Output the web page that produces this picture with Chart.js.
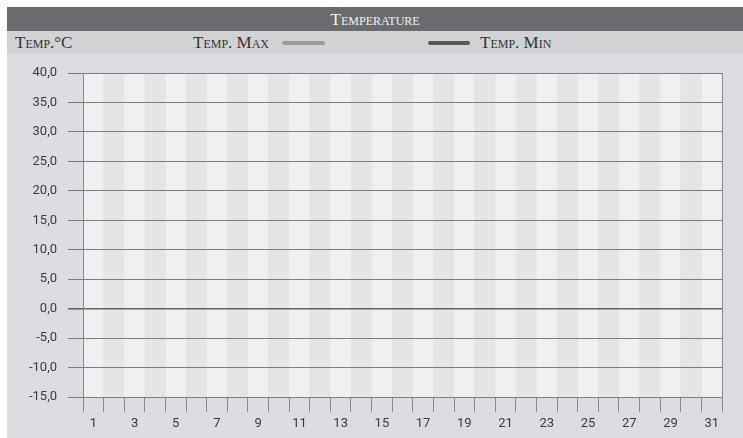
<!DOCTYPE html>
<html>
<head>
<meta charset="utf-8">
<script src="https://cdn.jsdelivr.net/npm/chart.js@4/dist/chart.umd.min.js"></script>
<style>
  html, body { margin: 0; padding: 0; background: #fff; }
  #wrap { position: absolute; left: 7px; top: 7px; width: 736px; height: 431px; background: #dcdde0; }
  #title { height: 24px; background: #6a6b6f; color: #f2f2f2; font: 17.5px "Liberation Serif", serif;
           font-variant: small-caps; text-align: center; line-height: 25px; }
  #head { position: relative; height: 23px; background: #d1d2d4; color: #333; font: 17px "Liberation Serif", serif;
          font-variant: small-caps; }
  #head span { position: absolute; top: 0; line-height: 24px; }
  .sw { position: absolute; top: 10px; height: 4px; border-radius: 2px; }
  #plot { position: relative; width: 736px; height: 384px; }
</style>
</head>
<body>
<div id="wrap">
  <div id="title">Temperature</div>
  <div id="head">
    <span style="left:8px">Temp.°C</span>
    <span style="left:186px">Temp. Max</span>
    <div class="sw" style="left:275px;width:43px;background:#9a9b9e"></div>
    <div class="sw" style="left:421px;width:42px;background:#57585b"></div>
    <span style="left:473px">Temp. Min</span>
  </div>
  <div id="plot"><canvas id="chart"></canvas></div>
</div>
<script>
// dias del mes
const days = ['1','2','3','4','5','6','7','8','9','10','11','12','13','14','15','16',
              '17','18','19','20','21','22','23','24','25','26','27','28','29','30','31'];
// sin mediciones todavía
const tempMax = [];
const tempMin = [];
const yMin = -15, yMax = 40, yStep = 5;

// franjas alternas por columna + borde derecho
const stripes = {
  id: 'stripes',
  beforeDraw(chart) {
    const { ctx, chartArea: a, scales: { x } } = chart;
    ctx.save();
    days.forEach((d, i) => {
      const c = x.getPixelForValue(i);
      const w = (x.getPixelForValue(1) - x.getPixelForValue(0));
      ctx.fillStyle = i % 2 === 0 ? '#eff0f2' : '#e4e5e7';
      ctx.fillRect(c - w / 2, a.top, w, a.bottom - a.top);
    });
    ctx.strokeStyle = '#8a8a8a';
    ctx.lineWidth = 1;
    ctx.beginPath();
    ctx.moveTo(a.right + 0.5, a.top);
    ctx.lineTo(a.right + 0.5, a.bottom);
    ctx.stroke();
    ctx.restore();
  }
};

new Chart(document.getElementById('chart'), {
  type: 'line',
  data: {
    labels: days,
    datasets: [
      { label: 'Temp. Max', data: tempMax, borderColor: '#9a9b9e', borderWidth: 4, pointRadius: 0 },
      { label: 'Temp. Min', data: tempMin, borderColor: '#57585b', borderWidth: 4, pointRadius: 0 }
    ]
  },
  options: {
    responsive: true,
    maintainAspectRatio: false,
    animation: false,
    layout: { padding: { top: 19, right: 21, bottom: 0, left: 0 } },
    plugins: { legend: { display: false }, tooltip: { enabled: false } },
    scales: {
      x: {
        offset: true,
        afterFit: s => { s.height = 41; },
        grid: { offset: true, drawOnChartArea: false, tickLength: 15, color: '#8a8a8a' },
        border: { display: false },
        ticks: {
          autoSkip: false, maxRotation: 0, padding: 4, color: '#3a3a3a',
          font: { family: 'Roboto', size: 13 },
          callback: (v, i) => i % 2 === 0 ? days[i] : ''
        }
      },
      y: {
        min: yMin, max: yMax,
        afterFit: s => { s.width = 76; },
        grid: {
          tickLength: 15,
          color: c => c.tick && c.tick.value === 0 ? '#646464' : '#7d7d7d',
          lineWidth: c => c.tick && c.tick.value === 0 ? 1.6 : 1
        },
        border: { color: '#8a8a8a' },
        ticks: {
          stepSize: yStep, padding: 11, color: '#3a3a3a',
          font: { family: 'Roboto', size: 13 },
          callback: v => v.toFixed(1).replace('.', ',')
        }
      }
    }
  },
  plugins: [stripes]
});
</script>
</body>
</html>
